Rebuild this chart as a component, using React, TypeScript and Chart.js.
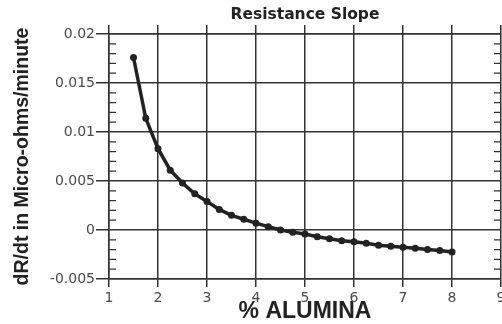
import React, { useEffect, useRef } from "react";
import { Chart, registerables } from "chart.js";

Chart.register(...registerables);

const alumina = [1.5, 1.75, 2.0, 2.25, 2.5, 2.75, 3.0, 3.25, 3.5, 3.75, 4.0, 4.25, 4.5, 4.75, 5.0, 5.25, 5.5, 5.75, 6.0, 6.25, 6.5, 6.75, 7.0, 7.25, 7.5, 7.75, 8.0];
const slope = [0.0176, 0.0114, 0.0083, 0.0061, 0.0048, 0.0037, 0.0029, 0.0021, 0.0015, 0.0011, 0.0007, 0.00034, 0.0, -0.00024, -0.0004, -0.00068, -0.0009, -0.0011, -0.0012, -0.00136, -0.00156, -0.00167, -0.00177, -0.00187, -0.002, -0.0021, -0.00224];

const xTickLabels = ["1", "2", "3", "4", "5", "6", "7", "8", "9"];
const yTickLabels = ["-0.005", "0", "0.005", "0.01", "0.015", "0.02"];

const chartTitle = "Resistance Slope";
const xTitle = "% ALUMINA";
const yTitle = "dR/dt in Micro-ohms/minute";

const GRID = "#333333";
const INK = "#222222";
const TICK = "#4a4a4a";

const minorTicks = {
  id: "minorTicks",
  beforeDatasetsDraw(chart: any) {
    const y = chart.scales.y;
    const { left, right } = chart.chartArea;
    const ctx = chart.ctx;
    ctx.save();
    ctx.strokeStyle = GRID;
    ctx.lineWidth = 1.2;
    const ticks = y.ticks;
    for (let i = 0; i < ticks.length - 1; i++) {
      const a = ticks[i].value;
      const b = ticks[i + 1].value;
      for (let k = 1; k < 5; k++) {
        const py = y.getPixelForValue(a + ((b - a) * k) / 5);
        ctx.beginPath();
        ctx.moveTo(left, py);
        ctx.lineTo(left + 7, py);
        ctx.moveTo(right - 7, py);
        ctx.lineTo(right, py);
        ctx.stroke();
      }
    }
    ctx.restore();
  },
};

const noPad = (s: any) => {
  s.paddingLeft = 0;
  s.paddingRight = 0;
  s.paddingTop = 0;
  s.paddingBottom = 0;
};

export default function App() {
  const ref = useRef<HTMLCanvasElement>(null);
  useEffect(() => {
    if (!ref.current) return;
    const chart = new Chart(ref.current, {
      type: "line",
      data: {
        datasets: [
          {
            data: alumina.map((x, i) => ({ x, y: slope[i] })),
            borderColor: INK,
            backgroundColor: INK,
            borderWidth: 3.5,
            pointRadius: 3.5,
            pointBackgroundColor: INK,
            pointBorderWidth: 0,
            tension: 0,
          },
        ],
      },
      options: {
        responsive: false,
        animation: false,
        layout: { autoPadding: false, padding: { left: 0, right: 1, top: 0, bottom: 0 } },
        plugins: {
          legend: { display: false },
          tooltip: { enabled: false },
          title: { display: false },
        },
        scales: {
          x: {
            type: "linear",
            position: "bottom",
            min: 1,
            max: 9,
            afterFit: (s: any) => { s.height = 45; noPad(s); },
            ticks: {
              stepSize: 1,
              color: TICK,
              font: { family: "DejaVu Sans", size: 14 },
              padding: 3,
              maxRotation: 0,
              callback: (v: any, i: number) => xTickLabels[i],
            },
            grid: { color: GRID, lineWidth: 1.5, tickLength: 8, tickColor: GRID },
            border: { color: GRID, width: 1.5 },
            title: {
              display: true,
              text: xTitle,
              color: INK,
              font: { family: "Liberation Sans", weight: "bold", size: 23, lineHeight: 1 },
              padding: { top: 0, bottom: 1 },
            },
          },
          x2: {
            type: "linear",
            position: "top",
            min: 1,
            max: 9,
            afterFit: (s: any) => { s.height = 34; noPad(s); },
            ticks: { display: false, stepSize: 1 },
            grid: { drawOnChartArea: false, color: GRID, lineWidth: 1.5, tickLength: 9 },
            border: { color: GRID, width: 1.5 },
            title: {
              display: true,
              text: chartTitle,
              color: INK,
              font: { family: "DejaVu Sans", weight: "bold", size: 15.5, lineHeight: 1.2 },
              padding: { top: 6, bottom: 0 },
            },
          },
          y: {
            type: "linear",
            min: -0.005,
            max: 0.02,
            afterFit: (s: any) => { s.width = 109; noPad(s); },
            ticks: {
              stepSize: 0.005,
              color: TICK,
              font: { family: "DejaVu Sans", size: 14 },
              padding: 1,
              callback: (v: any, i: number) => yTickLabels[i],
            },
            grid: { color: GRID, lineWidth: 1.5, tickLength: 13 },
            border: { color: GRID, width: 1.5 },
            title: {
              display: true,
              text: yTitle,
              color: INK,
              font: { family: "Liberation Sans", weight: "bold", size: 19.5, lineHeight: 1 },
              padding: { top: 13, bottom: 0 },
            },
          },
        },
      },
      plugins: [minorTicks],
    } as any);
    return () => chart.destroy();
  }, []);
  return (
    <div style={{ position: "absolute", left: 0, top: 0, width: 502, height: 324, background: "#fff" }}>
      <canvas ref={ref} width={502} height={324} style={{ display: "block" }} />
    </div>
  );
}
